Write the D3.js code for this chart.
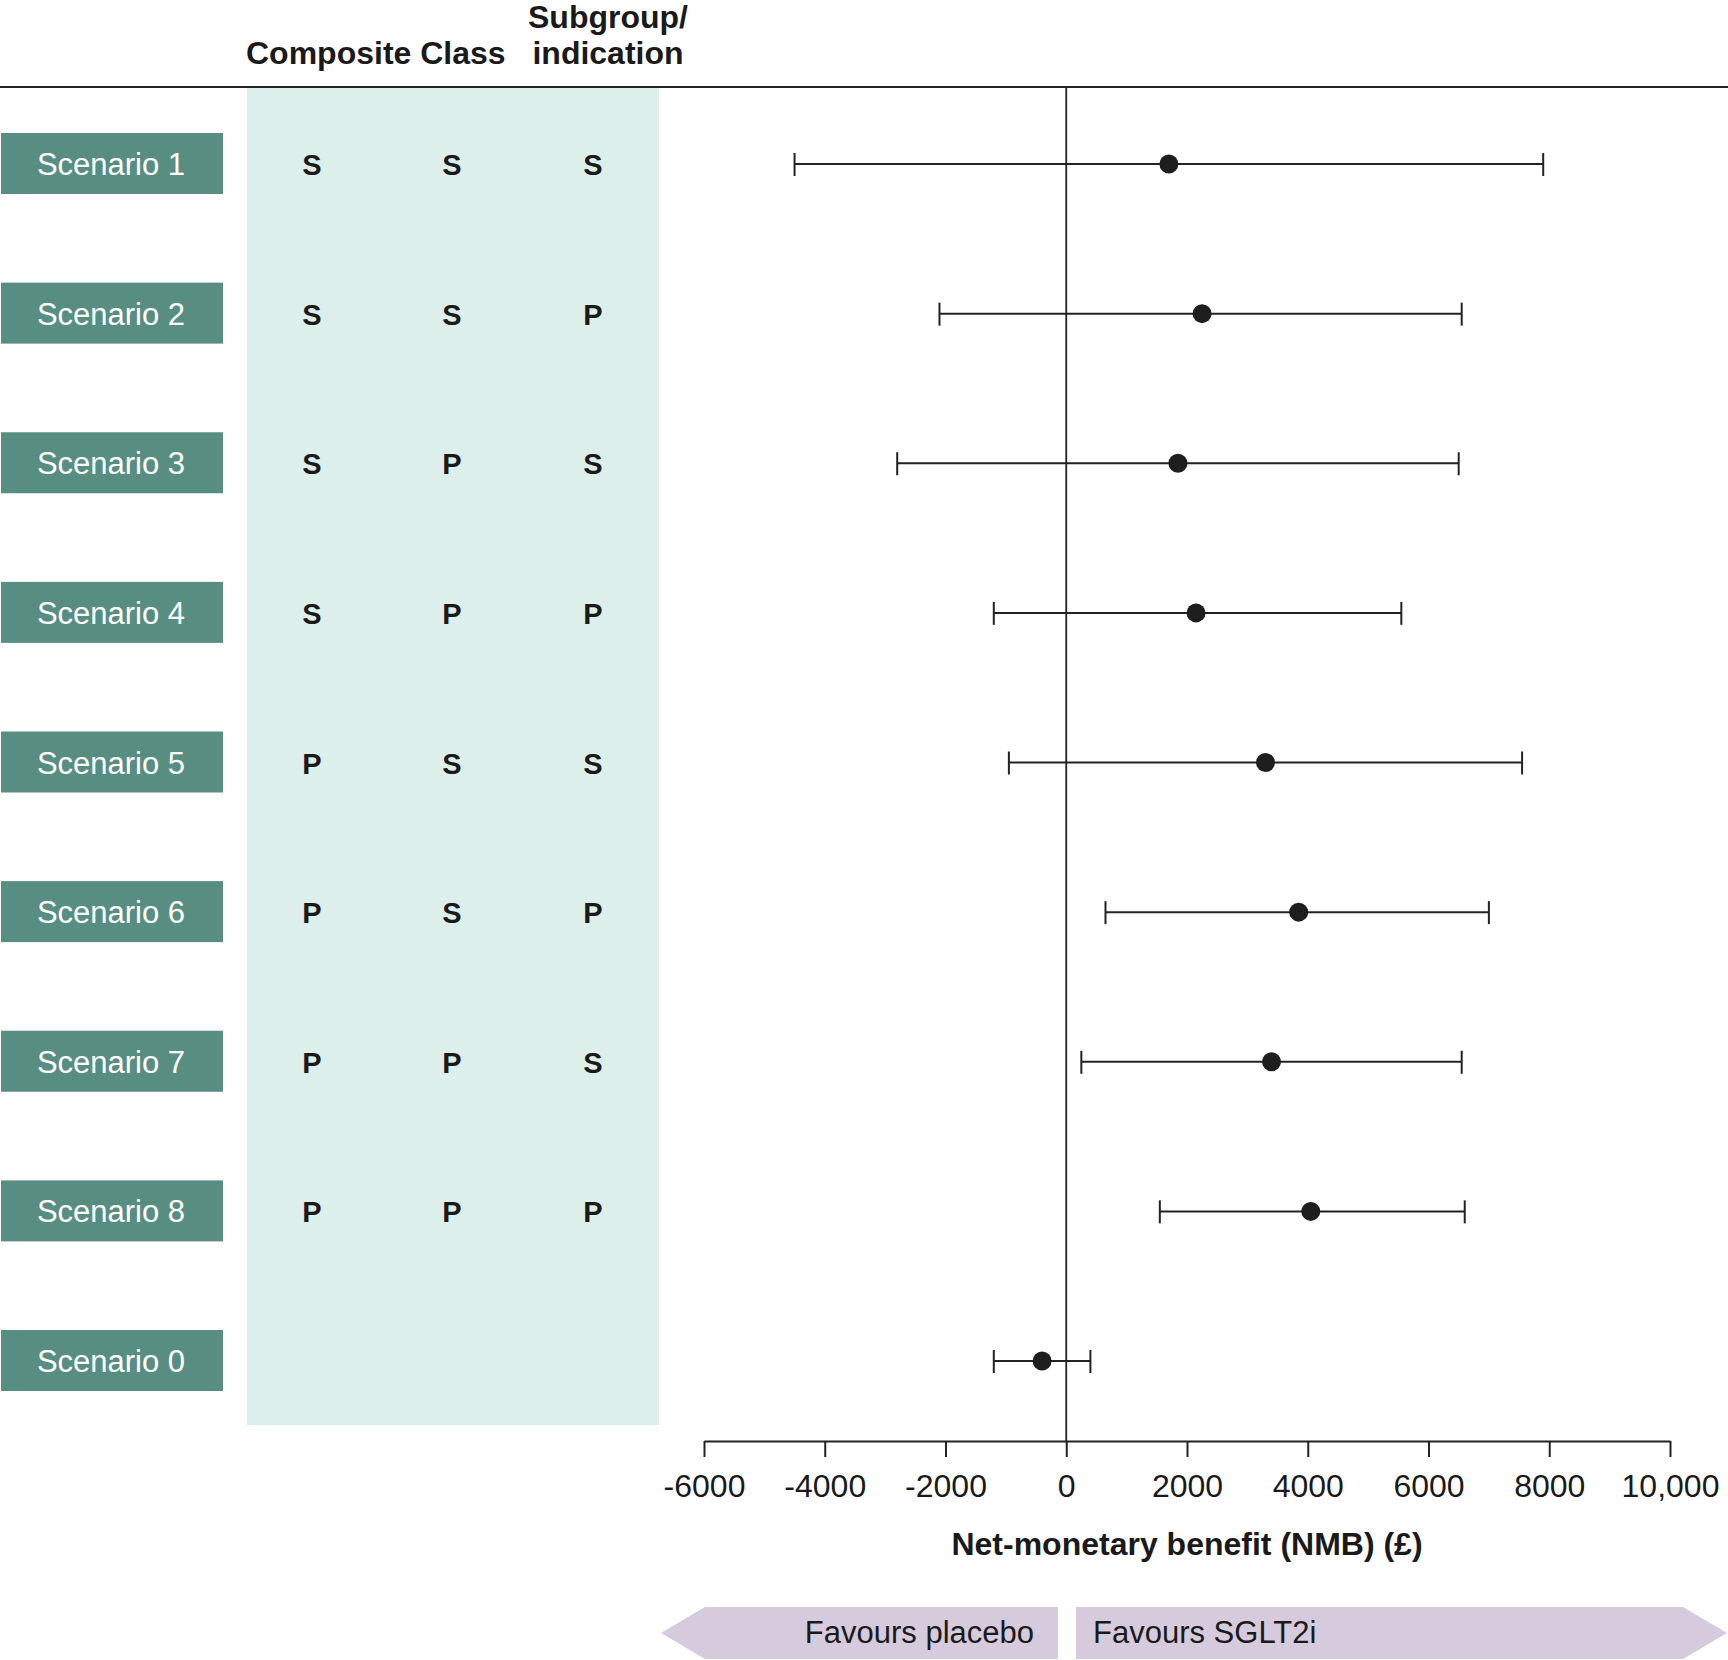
<!DOCTYPE html>
<html>
<head>
<meta charset="utf-8">
<script src="https://cdn.jsdelivr.net/npm/d3@7"></script>
<style>
  html, body { margin: 0; padding: 0; background: #fff; }
  svg { display: block; }
  text { font-family: "Liberation Sans", Arial, Helvetica, sans-serif; }
</style>
</head>
<body>
<svg id="chart" width="1728" height="1660"></svg>
<script>
// ---- data ----
const scenarios = ["Scenario 1","Scenario 2","Scenario 3","Scenario 4","Scenario 5","Scenario 6","Scenario 7","Scenario 8","Scenario 0"];
const composite = ["S","S","S","S","P","P","P","P",""];
const classCol  = ["S","S","P","P","S","S","P","P",""];
const subgroup  = ["S","P","S","P","S","P","S","P",""];
const nmb   = [1700, 2250, 1850, 2150, 3300, 3850, 3400, 4050, -400];
const lower = [-4500, -2100, -2800, -1200, -950, 650, 250, 1550, -1200];
const upper = [7900, 6550, 6500, 5550, 7550, 7000, 6550, 6600, 400];
const tickValues = [-6000, -4000, -2000, 0, 2000, 4000, 6000, 8000, 10000];
const tickLabels = ["-6000","-4000","-2000","0","2000","4000","6000","8000","10,000"];
const headers = ["Composite Class", "Subgroup/", "indication"];
const axisTitle = "Net-monetary benefit (NMB) (£)";
const favours = ["Favours placebo", "Favours SGLT2i"];

// ---- layout ----
const svg = d3.select("#chart");
const x = d3.scaleLinear().domain([-6000, 10000]).range([704, 1670]);
const y = d3.scalePoint().domain(scenarios).range([164, 1361]);
const axisY = 1441;
const colX = [312, 452, 593];

// teal band
svg.append("rect")
  .attr("x", 247).attr("y", 88).attr("width", 412).attr("height", 1425 - 88)
  .attr("fill", "#ddefea");

// top rule
svg.append("line")
  .attr("x1", 0).attr("x2", 1728).attr("y1", 87).attr("y2", 87)
  .attr("stroke", "#222").attr("stroke-width", 2);

// headers
svg.append("text").attr("x", 246).attr("y", 64)
  .attr("font-size", 32).attr("font-weight", "bold").attr("fill", "#1a1a1a")
  .text(headers[0]);
svg.append("text").attr("x", 608).attr("y", 28).attr("text-anchor", "middle")
  .attr("font-size", 32).attr("font-weight", "bold").attr("fill", "#1a1a1a")
  .text(headers[1]);
svg.append("text").attr("x", 608).attr("y", 64).attr("text-anchor", "middle")
  .attr("font-size", 32).attr("font-weight", "bold").attr("fill", "#1a1a1a")
  .text(headers[2]);

// scenario label boxes
const rows = svg.append("g").selectAll("g.row")
  .data(scenarios).join("g")
  .attr("transform", d => `translate(0,${y(d)})`);
rows.append("rect")
  .attr("x", 1).attr("y", -31).attr("width", 222).attr("height", 61)
  .attr("fill", "#578e81");
rows.append("text")
  .attr("x", 111).attr("y", 11).attr("text-anchor", "middle")
  .attr("font-size", 31).attr("fill", "#fff")
  .text(d => d);

// S/P letters
[composite, classCol, subgroup].forEach((col, ci) => {
  svg.append("g").selectAll("text")
    .data(col).join("text")
    .attr("x", colX[ci])
    .attr("y", (d, i) => y(scenarios[i]) + 11)
    .attr("text-anchor", "middle")
    .attr("font-size", 29).attr("font-weight", "bold").attr("fill", "#1a1a1a")
    .text(d => d);
});

// zero line
svg.append("line")
  .attr("x1", x(0)).attr("x2", x(0)).attr("y1", 87).attr("y2", axisY)
  .attr("stroke", "#222").attr("stroke-width", 1.8);

// x axis
const axis = d3.axisBottom(x)
  .tickValues(tickValues)
  .tickFormat((d, i) => tickLabels[i])
  .tickSize(16)
  .tickSizeOuter(0)
  .tickPadding(17);
const gAxis = svg.append("g").attr("transform", `translate(0,${axisY})`).call(axis);
gAxis.select(".domain").attr("stroke", "#222").attr("stroke-width", 2);
gAxis.selectAll(".tick line").attr("stroke", "#222").attr("stroke-width", 2);
gAxis.selectAll(".tick text")
  .attr("font-size", 32).attr("fill", "#1a1a1a")
  .attr("font-family", "'Liberation Sans', Arial, sans-serif");

// axis title
svg.append("text").attr("x", 1187).attr("y", 1555).attr("text-anchor", "middle")
  .attr("font-size", 32).attr("font-weight", "bold").attr("fill", "#1a1a1a")
  .text(axisTitle);

// error bars
const bars = svg.append("g").selectAll("g.bar")
  .data(scenarios).join("g")
  .attr("transform", d => `translate(0,${y(d)})`);
bars.append("line")
  .attr("x1", (d, i) => x(lower[i])).attr("x2", (d, i) => x(upper[i]))
  .attr("y1", 0).attr("y2", 0)
  .attr("stroke", "#222").attr("stroke-width", 2);
bars.append("line")
  .attr("x1", (d, i) => x(lower[i])).attr("x2", (d, i) => x(lower[i]))
  .attr("y1", -11).attr("y2", 12)
  .attr("stroke", "#222").attr("stroke-width", 2);
bars.append("line")
  .attr("x1", (d, i) => x(upper[i])).attr("x2", (d, i) => x(upper[i]))
  .attr("y1", -11).attr("y2", 12)
  .attr("stroke", "#222").attr("stroke-width", 2);
bars.append("circle")
  .attr("cx", (d, i) => x(nmb[i])).attr("cy", 0).attr("r", 9.5)
  .attr("fill", "#1e1e1e");

// favours arrows
const arrowTop = 1607, arrowBot = 1659, arrowMid = (arrowTop + arrowBot) / 2;
svg.append("path")
  .attr("d", `M661,${arrowMid} L705,${arrowTop} L1058,${arrowTop} L1058,${arrowBot} L705,${arrowBot} Z`)
  .attr("fill", "#d6cbdc");
svg.append("path")
  .attr("d", `M1076,${arrowTop} L1683,${arrowTop} L1727,${arrowMid} L1683,${arrowBot} L1076,${arrowBot} Z`)
  .attr("fill", "#d6cbdc");
svg.append("text").attr("x", 1034).attr("y", 1643).attr("text-anchor", "end")
  .attr("font-size", 31).attr("fill", "#1a1a1a").text(favours[0]);
svg.append("text").attr("x", 1093).attr("y", 1643)
  .attr("font-size", 31).attr("fill", "#1a1a1a").text(favours[1]);
</script>
</body>
</html>
